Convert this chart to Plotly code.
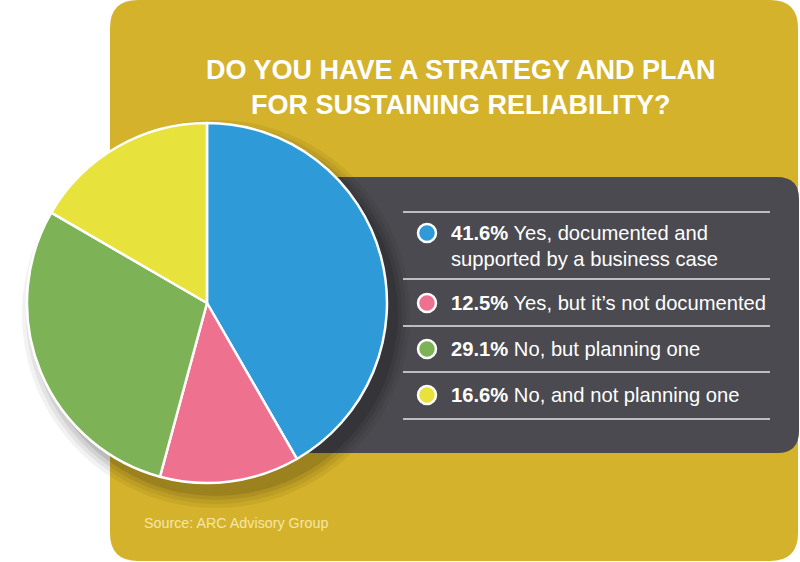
import plotly.graph_objects as go

# ---- data ----
title_lines = ["DO YOU HAVE A STRATEGY AND PLAN", "FOR SUSTAINING RELIABILITY?"]
labels = ["Yes, documented and supported by a business case",
          "Yes, but it\u2019s not documented",
          "No, but planning one",
          "No, and not planning one"]
label_display = ["Yes, documented and<br>supported by a business case",
                 "Yes, but it\u2019s not documented",
                 "No, but planning one",
                 "No, and not planning one"]
values = [41.6, 12.5, 29.1, 16.6]
colors = ["#2E9BD8", "#EF7190", "#7DB257", "#E7E33C"]
source = "Source: ARC Advisory Group"

W, H = 800, 562
GOLD = "#D4B22B"
DARK = "#4A4A50"
FONT = "Liberation Sans, Arial, sans-serif"

def rrect(x0, y0, x1, y1, r):
    return (f"M{x0+r},{y0} L{x1-r},{y0} Q{x1},{y0} {x1},{y0+r} "
            f"L{x1},{y1-r} Q{x1},{y1} {x1-r},{y1} L{x0+r},{y1} "
            f"Q{x0},{y1} {x0},{y1-r} L{x0},{y0+r} Q{x0},{y0} {x0+r},{y0} Z")

fig = go.Figure()

# pie
cx, cy, R = 207, 303, 180
fig.add_trace(go.Pie(
    values=values, labels=labels, sort=False, direction="clockwise", rotation=0,
    marker=dict(colors=colors, line=dict(color="white", width=2.5)),
    textinfo="none", hoverinfo="label+percent", showlegend=False,
    domain=dict(x=[(cx - R) / W, (cx + R) / W], y=[(H - cy - R) / H, (H - cy + R) / H]),
))

# legend markers
row_y = [233, 303, 349, 395]
text_y = [245.5, 303, 349, 395]
fig.add_trace(go.Scatter(
    x=[427] * len(values), y=row_y, mode="markers",
    marker=dict(size=18, color=colors, line=dict(color="white", width=2.5)),
    hoverinfo="skip", showlegend=False, cliponaxis=False,
))

shapes = []
shapes.append(dict(type="path", path=rrect(110, 0, 798, 561, 28), fillcolor=GOLD,
                   line=dict(width=0), layer="below", xref="x", yref="y"))
shapes.append(dict(type="path", path=rrect(250, 177, 799, 453, 22), fillcolor=DARK,
                   line=dict(width=0), layer="below", xref="x", yref="y"))
# soft shadow of pie
for dr, op in [(14, 0.05), (10, 0.06), (6, 0.08), (2, 0.10)]:
    shapes.append(dict(type="circle", xref="x", yref="y",
                       x0=cx + 9 - R - dr, x1=cx + 9 + R + dr,
                       y0=cy + 11 - R - dr, y1=cy + 11 + R + dr,
                       fillcolor="black", opacity=op, line=dict(width=0), layer="below"))
# separator lines
for ly in [212, 279, 326, 372, 419]:
    shapes.append(dict(type="line", xref="x", yref="y", x0=403, x1=770, y0=ly, y1=ly,
                       line=dict(color="#BEBEBE", width=2), layer="above"))

annotations = []
annotations.append(dict(x=461, y=70, xref="x", yref="y", text=f"<b>{title_lines[0]}</b>",
                        showarrow=False, font=dict(family=FONT, size=27, color="white"),
                        xanchor="center", yanchor="middle"))
annotations.append(dict(x=461, y=105, xref="x", yref="y", text=f"<b>{title_lines[1]}</b>",
                        showarrow=False, font=dict(family=FONT, size=27, color="white"),
                        xanchor="center", yanchor="middle"))
for v, lab, ty in zip(values, label_display, text_y):
    annotations.append(dict(x=449, y=ty, xref="x", yref="y",
                            text=f"<b>{v:.1f}%</b> {lab}", showarrow=False, align="left",
                            font=dict(family=FONT, size=20.2, color="white"),
                            xanchor="left", yanchor="middle"))
annotations.append(dict(x=142, y=523, xref="x", yref="y", text=source, showarrow=False,
                        font=dict(family=FONT, size=14.3, color="#F5E6A8"),
                        xanchor="left", yanchor="middle"))

fig.update_layout(
    width=W, height=H, margin=dict(l=0, r=0, t=0, b=0),
    paper_bgcolor="white", plot_bgcolor="rgba(0,0,0,0)",
    xaxis=dict(range=[0, W], visible=False, domain=[0, 1], fixedrange=True),
    yaxis=dict(range=[H, 0], visible=False, domain=[0, 1], fixedrange=True),
    shapes=shapes, annotations=annotations, showlegend=False,
)

fig.write_html("out.html")
